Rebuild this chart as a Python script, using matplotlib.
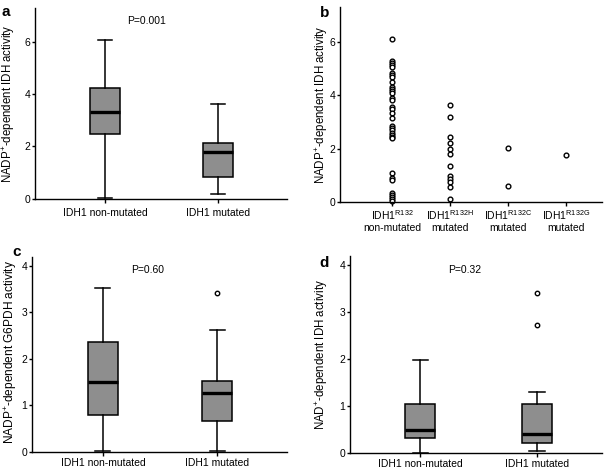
import matplotlib
matplotlib.use("Agg")
import matplotlib.pyplot as plt

plt.rcParams['font.family'] = ['Liberation Sans', 'DejaVu Sans']
plt.rcParams['mathtext.fontset'] = 'custom'
plt.rcParams['mathtext.rm'] = 'Liberation Sans'
plt.rcParams['mathtext.it'] = 'Liberation Sans:italic'
plt.rcParams['mathtext.bf'] = 'Liberation Sans:bold'

# ---------------- data ----------------
box_labels = ["IDH1 non-mutated", "IDH1 mutated"]

# panel a: NADP+-dependent IDH activity (whislo, q1, med, q3, whishi)
a_nonmut = [0.02, 2.48, 3.30, 4.24, 6.07]
a_mut = [0.18, 0.82, 1.80, 2.12, 3.64]
a_fliers = [[], []]

# panel c: NADP+-dependent G6PDH activity
c_nonmut = [0.01, 0.79, 1.49, 2.35, 3.52]
c_mut = [0.02, 0.66, 1.26, 1.53, 2.62]
c_fliers = [[], [3.41]]

# panel d: NAD+-dependent IDH activity
d_nonmut = [0.01, 0.33, 0.48, 1.05, 1.99]
d_mut = [0.05, 0.22, 0.41, 1.05, 1.30]
d_fliers = [[], [3.41, 2.73]]

# panel b: individual values
b_categories = ["IDH1$^{\\mathrm{R132}}$\nnon-mutated",
                "IDH1$^{\\mathrm{R132H}}$\nmutated",
                "IDH1$^{\\mathrm{R132C}}$\nmutated",
                "IDH1$^{\\mathrm{R132G}}$\nmutated"]
b_nonmut = [6.12, 5.28, 5.20, 5.12, 5.05, 4.85, 4.77, 4.70, 4.50, 4.32, 4.25,
            4.17, 4.10, 3.90, 3.83, 3.58, 3.50, 3.32, 3.15, 2.87, 2.78, 2.70,
            2.58, 2.52, 2.45, 2.40, 1.10, 0.90, 0.85, 0.35, 0.28, 0.20, 0.12,
            0.05]
b_r132h = [3.64, 3.18, 2.45, 2.22, 2.00, 1.80, 1.36, 0.98, 0.86, 0.77, 0.58,
           0.14]
b_r132c = [2.04, 0.60]
b_r132g = [1.75]
b_groups = [b_nonmut, b_r132h, b_r132c, b_r132g]

p_texts = ["P=0.001", "P=0.60", "P=0.32"]

# ---------------- figure ----------------
W, H = 610, 469
fig = plt.figure(figsize=(W / 100, H / 100), dpi=100)


def rect(l, r, b, t):
    return [l / W, 1 - b / H, (r - l) / W, (b - t) / H]


ax_a = fig.add_axes(rect(35, 287, 198.5, 8))
ax_b = fig.add_axes(rect(340, 602, 202.3, 7))
ax_c = fig.add_axes(rect(32, 287, 451.7, 256.5))
ax_d = fig.add_axes(rect(350, 602, 453, 256))

TICK_FS = 7.5
LABEL_FS = 8.3
GRAY = '#8e8e8e'


def style(ax):
    for s in ['top', 'right']:
        ax.spines[s].set_visible(False)
    for s in ['left', 'bottom']:
        ax.spines[s].set_linewidth(1.0)
    ax.tick_params(axis='both', labelsize=TICK_FS, width=1.0, direction='out')
    ax.tick_params(axis='y', length=2.5, pad=1)
    ax.tick_params(axis='x', length=3)


def boxes(ax, s1, s2, fliers, xpad):
    stats = []
    for s, f, lab in zip([s1, s2], fliers, box_labels):
        stats.append(dict(whislo=s[0], q1=s[1], med=s[2], q3=s[3],
                          whishi=s[4], fliers=f, label=lab))
    ax.bxp(stats, positions=[1, 2], widths=0.26, capwidths=0.13,
           patch_artist=True, showfliers=True,
           boxprops=dict(facecolor=GRAY, edgecolor='black', linewidth=1.1),
           medianprops=dict(color='black', linewidth=2.4),
           whiskerprops=dict(color='black', linewidth=1.1),
           capprops=dict(color='black', linewidth=1.1),
           flierprops=dict(marker='o', markersize=3.2, markerfacecolor='white',
                           markeredgecolor='black', markeredgewidth=1.0))
    ax.set_xticks([1, 2])
    ax.set_xticklabels(box_labels)
    style(ax)
    ax.tick_params(axis='x', pad=xpad)


def ptext(ax, x, y, s):
    ax.text(x, y, s, transform=ax.get_yaxis_transform(), fontsize=TICK_FS,
            ha='center', va='center')


# panel a
boxes(ax_a, a_nonmut, a_mut, a_fliers, 4)
ax_a.set_xlim(0.38, 2.61)
ax_a.set_ylim(0, 7.3)
ax_a.set_yticks([0, 2, 4, 6])
ax_a.set_ylabel("NADP$^{+}$-dependent IDH activity", fontsize=LABEL_FS)
ax_a.yaxis.set_label_coords(-0.07, 0.5)
ptext(ax_a, 0.444, 6.8, p_texts[0])

# panel b
for i, vals in enumerate(b_groups):
    ax_b.plot([i + 1] * len(vals), vals, linestyle='none', marker='o',
              markersize=3.4, markerfacecolor='white', markeredgecolor='black',
              markeredgewidth=1.0, clip_on=False)
ax_b.set_xlim(0.1, 4.62)
ax_b.set_ylim(0, 7.3)
ax_b.set_yticks([0, 2, 4, 6])
ax_b.set_xticks([1, 2, 3, 4])
ax_b.set_xticklabels(b_categories, linespacing=1.15)
style(ax_b)
ax_b.tick_params(axis='x', pad=1)
ax_b.set_ylabel("NADP$^{+}$-dependent IDH activity", fontsize=LABEL_FS)
ax_b.yaxis.set_label_coords(-0.04, 0.5)

# panel c
boxes(ax_c, c_nonmut, c_mut, c_fliers, 1.5)
ax_c.set_xlim(0.38, 2.61)
ax_c.set_ylim(0, 4.2)
ax_c.set_yticks([0, 1, 2, 3, 4])
ax_c.set_ylabel("NADP$^{+}$-dependent G6PDH activity", fontsize=8.6)
ax_c.yaxis.set_label_coords(-0.05, 0.51)
ptext(ax_c, 0.455, 3.9, p_texts[1])

# panel d
boxes(ax_d, d_nonmut, d_mut, d_fliers, 1.5)
ax_d.set_xlim(0.40, 2.555)
ax_d.set_ylim(0, 4.2)
ax_d.set_yticks([0, 1, 2, 3, 4])
ax_d.set_ylabel("NAD$^{+}$-dependent IDH activity", fontsize=LABEL_FS)
ax_d.yaxis.set_label_coords(-0.079, 0.5)
ptext(ax_d, 0.456, 3.9, p_texts[2])

# panel letters
for letter, (x, y) in zip("abcd", [(6, 11.5), (325, 13), (17, 252), (324, 263)]):
    fig.text(x / W, 1 - y / H, letter, fontsize=11, fontweight='bold',
             ha='center', va='center')

fig.savefig("out.png", dpi=100)
